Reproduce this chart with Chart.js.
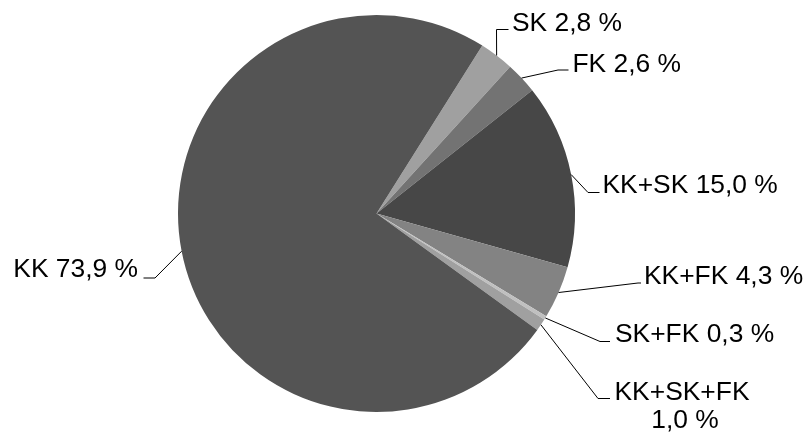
<!DOCTYPE html>
<html>
<head>
<meta charset="utf-8">
<script src="https://cdn.jsdelivr.net/npm/chart.js@4"></script>
<style>
  html, body { margin: 0; padding: 0; background: #fff; }
  #wrap { width: 807px; height: 433px; position: relative; }
</style>
</head>
<body>
<div id="wrap"><canvas id="pie"></canvas></div>
<script>
// Data, in drawing order (clockwise from the first slice edge)
const categories = ['SK', 'FK', 'KK+SK', 'KK+FK', 'SK+FK', 'KK+SK+FK', 'KK'];
const shares     = [2.8, 2.6, 15.0, 4.3, 0.3, 1.0, 73.9];
const sliceColors = ['#a0a0a0', '#737373', '#474747', '#838383', '#c0c0c0', '#a0a0a0', '#545454'];

// Where each label sits: leader elbow, leader end, text anchor (px)
const labelLayout = [
  { elbow: [496.5, 29.5],  end: [508.5, 29.5],  x: 512,   y: 31,    align: 'left' },
  { elbow: [558, 70],      end: [568.5, 70],    x: 572.5, y: 71.5,  align: 'left' },
  { elbow: [588, 192.5],   end: [599.5, 192.5], x: 602.5, y: 193,   align: 'left' },
  { elbow: [638, 283],     end: [641, 283],     x: 644,   y: 283.5, align: 'left' },
  { elbow: [600, 341.5],   end: [610, 341.5],   x: 615,   y: 341.5, align: 'left' },
  { elbow: [598, 398.5],   end: [610, 398.5],   x: 682,   y: 400,   align: 'center', wrap: true },
  { elbow: [155, 278],     end: [143.5, 278],   x: 138,   y: 277,   align: 'right' },
];

const fmt = v => v.toFixed(1).replace('.', ',') + ' %';

// Plugin: leader lines + labels outside the pie
const leaderLabels = {
  id: 'leaderLabels',
  afterDatasetsDraw(chart) {
    const { ctx } = chart;
    const arcs = chart.getDatasetMeta(0).data;
    ctx.save();
    ctx.strokeStyle = '#000';
    ctx.lineWidth = 1;
    ctx.fillStyle = '#000';
    ctx.font = '26.4px "Liberation Sans", Arial, sans-serif';
    ctx.textBaseline = 'alphabetic';
    arcs.forEach((arc, i) => {
      const { x, y, startAngle, endAngle, outerRadius } = arc.getProps(['x', 'y', 'startAngle', 'endAngle', 'outerRadius'], true);
      const mid = (startAngle + endAngle) / 2;
      const sx = x + Math.cos(mid) * outerRadius;
      const sy = y + Math.sin(mid) * outerRadius;
      const L = labelLayout[i];
      ctx.beginPath();
      ctx.moveTo(sx, sy);
      ctx.lineTo(L.elbow[0], L.elbow[1]);
      ctx.lineTo(L.end[0], L.end[1]);
      ctx.stroke();
      ctx.textAlign = L.align;
      if (L.wrap) {
        ctx.fillText(categories[i], L.x, L.y);
        ctx.fillText(fmt(shares[i]), L.x + 3, L.y + 28);
      } else {
        ctx.fillText(categories[i] + ' ' + fmt(shares[i]), L.x, L.y);
      }
    });
    ctx.restore();
  },
};

new Chart(document.getElementById('pie'), {
  type: 'pie',
  data: {
    labels: categories,
    datasets: [{
      data: shares,
      backgroundColor: sliceColors,
      borderWidth: 0,
    }],
  },
  options: {
    responsive: true,
    maintainAspectRatio: false,
    animation: false,
    rotation: 32.2,
    layout: { padding: { top: 15, bottom: 21, left: 178, right: 232 } },
    plugins: {
      legend: { display: false },
      tooltip: { enabled: false },
    },
  },
  plugins: [leaderLabels],
});
</script>
</body>
</html>
